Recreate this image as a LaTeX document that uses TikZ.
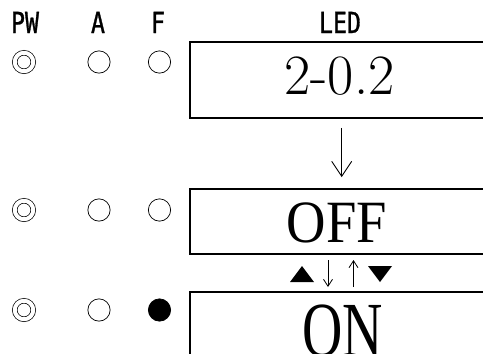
\documentclass[tikz,border=0pt]{standalone}
\usepackage{fontspec}
\newfontfamily\tnrfont{Liberation Serif}
\newfontfamily\lblfont[FakeStretch=0.8, FakeBold=1]{DejaVu Sans Mono}
\usetikzlibrary{arrows.meta}

\begin{document}
\begin{tikzpicture}[x=1pt, y=-1pt,
    lbl/.style={font=\lblfont\fontsize{29}{29}\selectfont, anchor=base, inner sep=0pt},
    lamp/.style={circle, draw, line width=0.7pt, minimum size=22.3pt, inner sep=0pt},
    pwlamp/.style={circle, draw, double, double distance=4pt, line width=0.7pt, minimum size=18.5pt, inner sep=0pt},
    ledbox/.style={draw, line width=1.7pt, minimum width=300pt, inner sep=0pt},
    keyarrow/.style={line width=0.8pt, -{Straight Barb[length=7pt, width=9pt, line width=0.8pt]}}]
    \useasboundingbox (0,0) rectangle (483,354);

    % Column headings
    \node[lbl] (hpw) at (25,33) {PW};
    \node[lbl] (ha) at (98,33) {A};
    \node[lbl] (hf) at (158,33) {F};
    \node[lbl] (hled) at (340,33) {LED};

    % Lamps, one row per display state
    \foreach \r/\y in {1/62, 2/210, 3/310} {
        \node[pwlamp] (pw\r) at (24,\y) {};
        \node[lamp] (a\r) at (99,\y) {};
    }
    \node[lamp] (f1) at (159.5,62) {};
    \node[lamp] (f2) at (159.5,210) {};
    \node[lamp, fill=black] (f3) at (159.5,310) {};

    % LED boxes
    \node[ledbox, minimum height=76pt] (box1) at (340,80) {};
    \node[ledbox, minimum height=65pt] (box2) at (340,221.5) {};
    \node[ledbox, minimum height=66pt] (box3) at (340,325) {};
    \node[font=\fontsize{57}{57}\selectfont, inner sep=0pt] (val) at (339.5,76.5) {2-0.2};
    \node[font=\tnrfont\fontsize{60}{60}\selectfont, inner sep=0pt] (off) at (337,223)
        {\scalebox{0.91}[1]{OFF}};
    \node[font=\tnrfont\fontsize{60}{60}\selectfont, inner sep=0pt, anchor=north] (on) at (342.5,304.5)
        {\scalebox{0.93}[1.3]{ON}};

    % Transitions
    \draw[line width=0.9pt, -{Straight Barb[length=15pt, width=20pt, line width=0.9pt]},
        shorten <=9pt, shorten >=11pt] ([xshift=1.7pt]box1.south) -- ([xshift=1.7pt]box2.north);
    \coordinate (kdn) at (328,260);
    \coordinate (kup) at (353.5,287);
    \fill (290,282) -- (314,282) -- (302,266) -- cycle;
    \draw[keyarrow] (kdn) -- ++(0,27);
    \draw[keyarrow] (kup) -- ++(0,-27);
    \fill (368,266) -- (392,266) -- (380,282) -- cycle;
\end{tikzpicture}
\end{document}
